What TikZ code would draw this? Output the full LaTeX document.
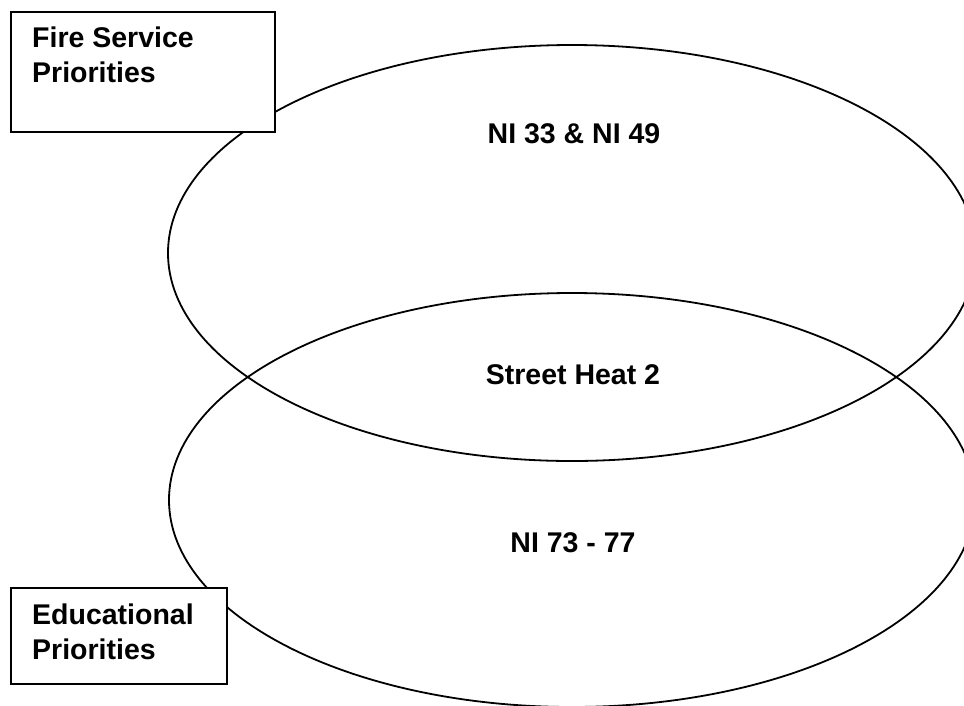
\documentclass[tikz,border=0pt]{standalone}
\usepackage{fontspec}
\setmainfont{Liberation Sans}
\usetikzlibrary{positioning}
\newcommand{\bigbold}[0]{\fontsize{28.5}{35}\selectfont\bfseries}

\begin{document}
\begin{tikzpicture}[x=1pt,y=-1pt,
    ring/.style={line width=1.8pt},
    tagbox/.style={draw, line width=2.4pt, fill=white, anchor=north west, inner sep=0pt},
    tagtext/.style={font=\bigbold, align=left, anchor=north west, inner sep=0pt},
    midtext/.style={font=\bigbold, inner sep=0pt}]
  \useasboundingbox (0,0) rectangle (964,705);
  \clip (0,0) rectangle (964,705);
  % the two rings
  \draw[ring] (572,253) ellipse [x radius=404pt, y radius=208pt];
  \draw[ring] (572,500) ellipse [x radius=403pt, y radius=207pt];
  % texts in the rings
  \node[midtext] (top) at (574,134) {NI 33 \& NI 49};
  \node[midtext] (mid) at (573,375) {Street Heat 2};
  \node[midtext] (low) at (573,543) {NI 73 - 77};
  % boxes in the corners
  \node[tagbox, minimum width=264pt, minimum height=120pt] (firebox) at (10,11) {};
  \node[tagtext] (fire) at (32,27) {Fire Service\\Priorities};
  \node[tagbox, minimum width=216pt, minimum height=96pt] (edubox) at (10,587) {};
  \node[tagtext] (edu) at (32,604) {Educational\\Priorities};
\end{tikzpicture}
\end{document}
